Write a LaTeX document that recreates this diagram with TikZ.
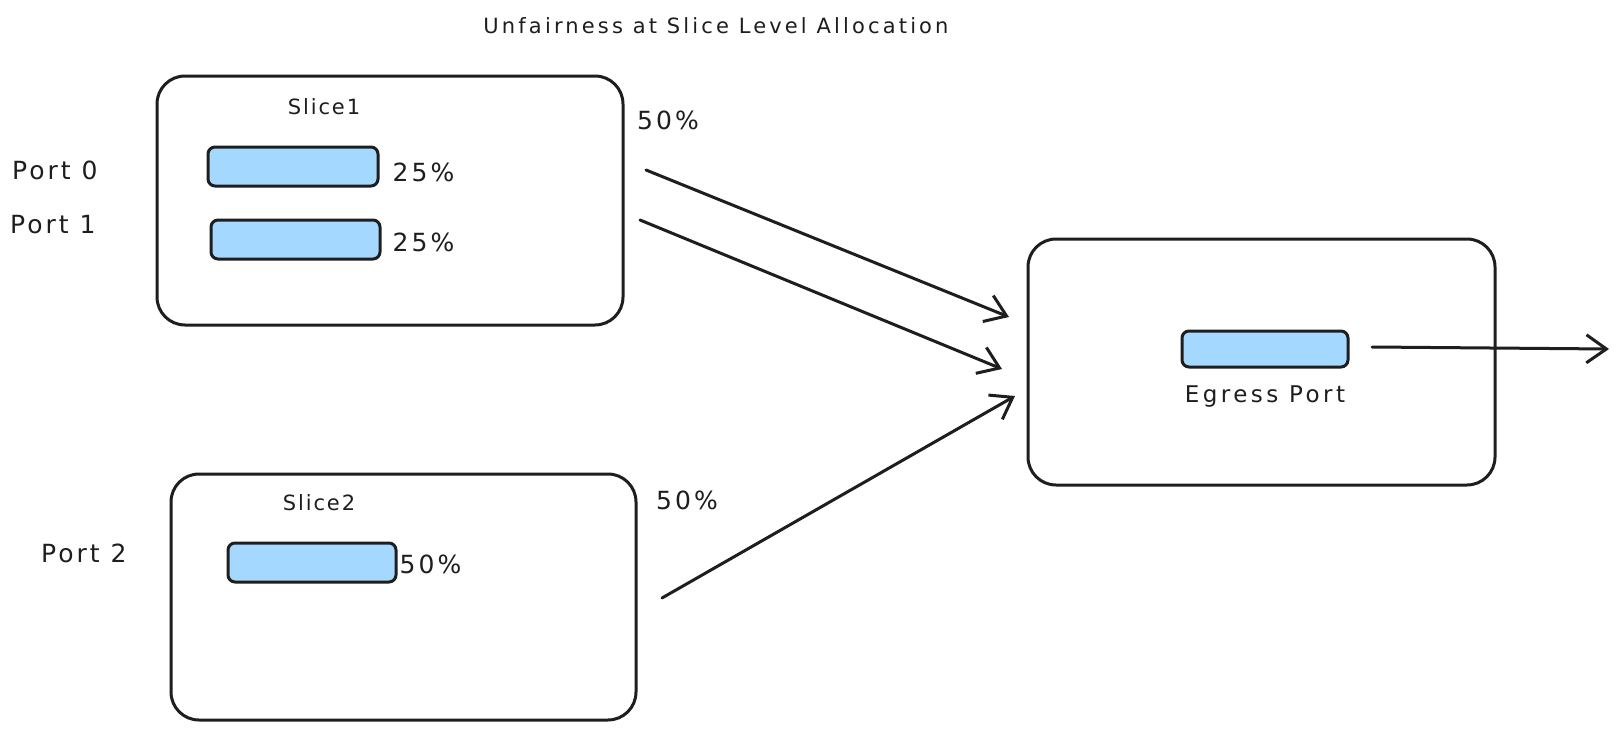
\documentclass[tikz,border=0pt]{standalone}
\usepackage{fontspec}
\setmainfont{DejaVu Sans}
\usetikzlibrary{arrows.meta, positioning}
\definecolor{ink}{HTML}{1E1E1E}
\definecolor{barblue}{HTML}{A5D8FF}
\newcommand{\titlefont}{\fontsize{21}{25}\selectfont\addfontfeature{LetterSpace=15}}
\newcommand{\labfont}{\fontsize{21}{25}\selectfont\addfontfeature{LetterSpace=9}}
\newcommand{\egfont}{\fontsize{23}{27}\selectfont\addfontfeature{LetterSpace=15}}
\newcommand{\pctfont}{\fontsize{25}{29}\selectfont\addfontfeature{LetterSpace=12}}
\tikzset{
  slicebox/.style={draw=ink, line width=3pt, rounded corners=28pt, inner sep=0pt},
  barbox/.style={draw=ink, fill=barblue, line width=3pt, rounded corners=7pt, inner sep=0pt},
  lab/.style={text=ink, font=\labfont, inner sep=0pt},
  pct/.style={text=ink, font=\pctfont, inner sep=0pt},
  flow/.style={draw=ink, line width=3pt, line cap=round, -{Straight Barb[length=20pt, width=28pt, line width=3pt]}}
}
\begin{document}
\begin{tikzpicture}[x=1pt, y=-1pt]
  \useasboundingbox[fill=white] (0,0) rectangle (1617,731);
  % title
  \node[lab, font=\titlefont] (title) at (716,26) {Unfairness at Slice Level Allocation};
  % slices and egress
  \node[slicebox, minimum width=466pt, minimum height=249pt] (slice1) at (390,200.5) {};
  \node[slicebox, minimum width=465pt, minimum height=246pt] (slice2) at (403.5,597) {};
  \node[slicebox, minimum width=467pt, minimum height=246pt] (egress) at (1261.5,362) {};
  % queue bars
  \node[barbox, minimum width=170pt, minimum height=39pt] (p0bar) at (293,166.5) {};
  \node[barbox, minimum width=169pt, minimum height=39pt] (p1bar) at (295.5,239.5) {};
  \node[barbox, minimum width=168pt, minimum height=39pt] (p2bar) at (312,562.5) {};
  \node[barbox, minimum width=166pt, minimum height=36pt] (egbar) at (1265,349) {};
  % labels
  \node[lab] (s1lab) at (324,107) {Slice1};
  \node[lab] (s2lab) at (319,503) {Slice2};
  \node[lab, font=\egfont, below=17pt of egbar] (eglab) {Egress Port};
  \node[pct, anchor=west] (p0lab) at (12,170) {Port 0};
  \node[pct, anchor=west] (p1lab) at (10,225) {Port 1};
  \node[pct, anchor=west] (p2lab) at (41,553) {Port 2};
  \node[pct, right=13pt of p0bar, yshift=-6pt] (p0pct) {25\%};
  \node[pct, right=11pt of p1bar, yshift=-3pt] (p1pct) {25\%};
  \node[pct, right=2pt of p2bar, yshift=-2pt] (p2pct) {50\%};
  \node[pct, anchor=west] (s1pct) at (637,120) {50\%};
  \node[pct, anchor=west] (s2pct) at (656,500) {50\%};
  % connector ends
  \coordinate (a1s) at (646,170);
  \coordinate (a1e) at (1009,317);
  \coordinate (a2s) at (640,220);
  \coordinate (a2e) at (1002,369);
  \coordinate (a3s) at (662,598);
  \coordinate (a3e) at (1015,396);
  \coordinate (outs) at (1372,347);
  \coordinate (oute) at (1609,349);
  \draw[flow] (a1s) -- (a1e);
  \draw[flow] (a2s) -- (a2e);
  \draw[flow] (a3s) -- (a3e);
  \draw[flow] (outs) -- (oute);
\end{tikzpicture}
\end{document}
